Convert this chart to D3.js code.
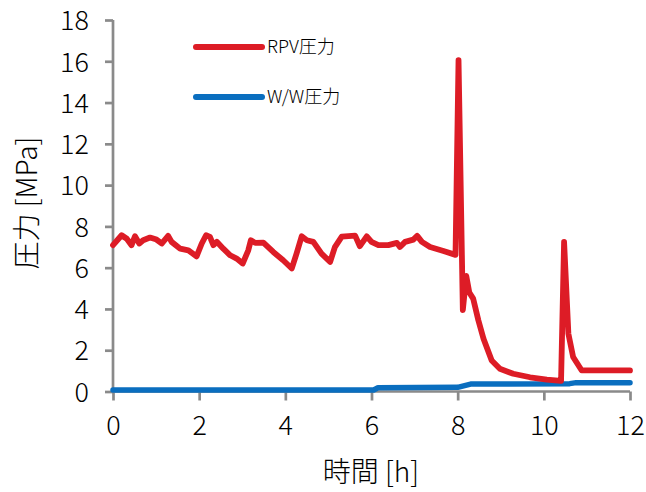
<!DOCTYPE html>
<html>
<head>
<meta charset="utf-8">
<script src="https://cdn.jsdelivr.net/npm/d3@7"></script>
<style>
  html, body { margin: 0; padding: 0; background: #fff; }
  svg { display: block; }
  text { font-family: "Noto Sans CJK JP", "Noto Sans", sans-serif; fill: #000; font-weight: 300; }
</style>
</head>
<body>
<svg id="chart" width="646" height="492"></svg>
<script>
// RPV pressure [MPa] over time [h]
const rpvTime = [0, 0.2, 0.32, 0.43, 0.51, 0.61, 0.7, 0.86, 1.01, 1.13, 1.28, 1.36, 1.56, 1.75, 1.94,
  2.06, 2.16, 2.25, 2.33, 2.41, 2.56, 2.72, 2.87, 3.01, 3.14, 3.2, 3.3, 3.49, 3.72, 3.95,
  4.15, 4.26, 4.38, 4.5, 4.65, 4.84, 5.04, 5.15, 5.31, 5.62, 5.73, 5.89, 6.0, 6.16, 6.39,
  6.59, 6.66, 6.78, 6.97, 7.06, 7.17, 7.36, 7.67, 7.95, 8.02, 8.12, 8.2, 8.27, 8.36, 8.48,
  8.6, 8.79, 8.98, 9.29, 9.68, 10.07, 10.4, 10.47, 10.57, 10.68, 10.88, 12];
const rpvPressure = [7.09, 7.57, 7.4, 7.09, 7.52, 7.17, 7.33, 7.46, 7.36, 7.17, 7.54, 7.25, 6.92, 6.84, 6.55,
  7.17, 7.57, 7.49, 7.09, 7.25, 6.92, 6.6, 6.44, 6.2, 6.84, 7.33, 7.2, 7.21, 6.76, 6.36,
  5.96, 6.68, 7.52, 7.33, 7.25, 6.68, 6.28, 7.0, 7.5, 7.55, 7.04, 7.52, 7.25, 7.09, 7.09,
  7.2, 7.0, 7.25, 7.36, 7.54, 7.25, 7.0, 6.81, 6.62, 16.05, 3.95, 5.6, 4.8, 4.5, 3.45,
  2.56, 1.5, 1.1, 0.86, 0.69, 0.58, 0.52, 7.25, 2.8, 1.67, 1.02, 1.02];

// W/W pressure [MPa] over time [h]
const wwTime = [0, 6.05, 6.15, 8.0, 8.3, 10.6, 10.75, 12];
const wwPressure = [0.07, 0.07, 0.18, 0.2, 0.36, 0.38, 0.43, 0.43];

const xTicks = [0, 2, 4, 6, 8, 10, 12];
const yTicks = [0, 2, 4, 6, 8, 10, 12, 14, 16, 18];

const seriesNames = ["RPV圧力", "W/W圧力"];
const seriesColors = ["#dd1c26", "#0a6ebf"];

const svg = d3.select("#chart");

const x = d3.scaleLinear().domain([0, 12]).range([113, 630]);
const y = d3.scaleLinear().domain([0, 18]).range([391.5, 20]);

const axisColor = "#8a8a8a";

// Y axis
const gy = svg.append("g")
  .attr("transform", `translate(${x(0)},0)`)
  .call(d3.axisLeft(y).tickValues(yTicks).tickSize(8).tickPadding(16).tickFormat(d3.format("d")));
gy.select(".domain").attr("stroke", axisColor).attr("stroke-width", 2.7);
gy.selectAll(".tick line").attr("stroke", axisColor).attr("stroke-width", 2.7);
gy.selectAll(".tick text")
  .style("font-size", "27px")
  .attr("dy", "0.36em");

// X axis
const gx = svg.append("g")
  .attr("transform", `translate(0,${y(0)})`)
  .call(d3.axisBottom(x).tickValues(xTicks).tickSize(9).tickPadding(14).tickFormat(d3.format("d")));
gx.select(".domain").attr("stroke", axisColor).attr("stroke-width", 2.7);
gx.selectAll(".tick line").attr("stroke", axisColor).attr("stroke-width", 2.7);
gx.selectAll(".tick text")
  .style("font-size", "27px")
  .attr("y", 43)
  .attr("dy", null);

// Plain axis lines without the outer end stubs
gy.select(".domain").attr("d", `M0,${y(18)}V${y(0)}`);
gx.select(".domain").attr("d", `M${x(0)},0H${x(12)}`);

// Axis titles
svg.append("text")
  .attr("x", 371).attr("y", 482)
  .attr("text-anchor", "middle")
  .style("font-size", "28px")
  .text("時間 [h]");

svg.append("text")
  .attr("transform", "translate(37,203) rotate(-90)")
  .attr("text-anchor", "middle")
  .style("font-size", "28px")
  .text("圧力 [MPa]");

// Lines
const line = d3.line()
  .x(d => x(d[0]))
  .y(d => y(d[1]));

const wwData = wwTime.map((t, i) => [t, wwPressure[i]]);
const rpvData = rpvTime.map((t, i) => [t, rpvPressure[i]]);

svg.append("path")
  .datum(wwData)
  .attr("fill", "none")
  .attr("stroke", seriesColors[1])
  .attr("stroke-width", 5.5)
  .attr("stroke-linejoin", "round")
  .attr("stroke-linecap", "round")
  .attr("d", line);

svg.append("path")
  .datum(rpvData)
  .attr("fill", "none")
  .attr("stroke", seriesColors[0])
  .attr("stroke-width", 5.8)
  .attr("stroke-linejoin", "round")
  .attr("stroke-linecap", "round")
  .attr("d", line);

// Legend
const legendY = [47, 97];
const legend = svg.append("g");
seriesNames.forEach((name, i) => {
  legend.append("line")
    .attr("x1", 196).attr("x2", 262)
    .attr("y1", legendY[i]).attr("y2", legendY[i])
    .attr("stroke", seriesColors[i])
    .attr("stroke-width", 6)
    .attr("stroke-linecap", "round");
  legend.append("text")
    .attr("x", 267).attr("y", legendY[i])
    .attr("dy", "0.36em")
    .style("font-size", "18px")
    .text(name);
});
</script>
</body>
</html>
